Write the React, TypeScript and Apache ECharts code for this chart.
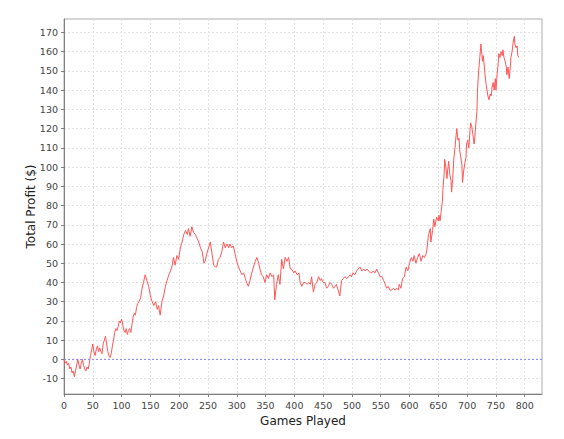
import React, { useEffect, useRef } from "react";
import * as echarts from "echarts";

// [games played, total profit ($)], split by session phase
const phaseOne = [
  [0, 0], [2, -2], [4, -1], [6, -3], [8, -2], [10, -5], [12, -4], [14, -7], [16, -6], [18, -9],
  [20, -6], [22, -3], [24, 0], [26, -3], [28, -5], [30, -2], [32, 0], [34, -3], [36, -5], [38, -6],
  [40, -4], [42, -5], [44, -2], [46, 2], [48, 5], [50, 8], [52, 4], [54, 2], [56, 5], [58, 7],
  [60, 4], [62, 6], [64, 4], [66, 3], [68, 8], [70, 10], [72, 12], [74, 8], [76, 4], [78, 2],
  [80, 1], [82, 3], [84, 7], [86, 10], [88, 14], [90, 16], [92, 15], [94, 17], [96, 20], [98, 19],
  [100, 21], [102, 18], [104, 15], [106, 14], [108, 16], [110, 13], [112, 15], [114, 16], [116, 14],
  [118, 18], [120, 22], [122, 24], [124, 23], [126, 27], [128, 29],
];

const phaseTwo = [
  [130, 30], [133, 32], [135, 36], [138, 40], [141, 44], [144, 41], [147, 38], [150, 33], [153, 30],
  [156, 28], [159, 30], [162, 26], [164, 28], [167, 23], [170, 30], [173, 33], [176, 38], [179, 41],
  [182, 44], [185, 46], [188, 49], [190, 53], [193, 49], [196, 54], [199, 52], [202, 58], [205, 61],
  [208, 65], [211, 67], [214, 65], [216, 68], [219, 64], [222, 69], [225, 66], [228, 65], [231, 63],
  [234, 61], [237, 58], [240, 56], [243, 50], [245, 51], [248, 55], [251, 58], [254, 61], [257, 55],
  [260, 49], [263, 48], [265, 48], [268, 52], [271, 53], [274, 56], [277, 61], [280, 58], [283, 60],
  [286, 58], [288, 60], [291, 58], [294, 59], [297, 55], [300, 51],
];

const phaseThree = [
  [303, 48], [306, 46], [309, 44], [312, 45], [315, 42], [317, 40], [320, 38], [323, 41], [326, 45],
  [329, 48], [332, 51], [335, 53], [338, 50], [341, 46], [343, 44], [346, 43], [349, 40], [352, 44],
  [355, 42], [358, 45], [361, 43], [364, 44], [366, 31], [369, 39], [372, 44], [375, 39], [378, 52],
  [381, 47], [384, 53], [387, 51], [390, 53], [393, 47], [395, 47], [399, 45], [401, 46], [405, 44],
  [408, 45], [410, 40], [413, 38], [416, 40], [419, 40], [422, 39], [425, 40], [428, 39], [430, 43],
  [433, 35], [436, 39], [439, 40], [442, 43], [445, 41], [447, 42], [450, 40], [453, 40], [456, 37],
  [459, 38], [462, 40], [465, 39], [468, 37], [471, 38], [473, 39], [476, 36], [479, 33], [482, 41],
  [485, 42], [488, 43], [491, 42], [494, 43], [497, 44], [499, 43], [502, 45], [505, 44], [508, 46],
  [511, 47], [514, 48], [517, 46], [520, 47], [523, 46], [526, 47], [529, 46], [532, 45], [534, 45],
  [537, 46], [540, 45], [543, 47], [546, 45], [549, 43], [552, 43], [555, 41], [558, 39], [560, 37],
  [563, 38], [566, 36], [569, 36], [572, 37], [575, 36], [578, 37], [581, 36], [582, 39], [585, 37],
  [588, 42], [591, 43], [594, 48], [597, 46], [600, 50],
];

const phaseFour = [
  [603, 53], [606, 51], [608, 54], [611, 50], [614, 53], [617, 55], [620, 51], [623, 54], [626, 53],
  [629, 55], [630, 57], [633, 65], [636, 68], [637, 61], [640, 67], [642, 73], [644, 69], [647, 74],
  [650, 72], [651, 75], [653, 72], [655, 77], [657, 82], [658, 89], [660, 96], [661, 104], [663, 100],
  [665, 94], [666, 98], [668, 103], [670, 96], [672, 93], [673, 87], [675, 94], [677, 105], [679, 110],
  [680, 114], [682, 120], [684, 114], [686, 115], [687, 109], [689, 105], [691, 101], [692, 92],
  [694, 98], [696, 102], [698, 105], [699, 112], [701, 114], [703, 110], [705, 119], [706, 123],
  [708, 121], [710, 117], [712, 112], [713, 114], [715, 122], [717, 129], [718, 140], [720, 150],
  [722, 157], [724, 164], [725, 160], [727, 155], [728, 158], [730, 152], [731, 148], [733, 143],
  [735, 139], [736, 137], [738, 135], [740, 138], [742, 137], [743, 141], [745, 144], [747, 140],
  [749, 146], [750, 140], [752, 148], [754, 154], [755, 159], [757, 157], [759, 160], [761, 158],
  [762, 161], [764, 157], [766, 155], [768, 152], [769, 148], [771, 152], [773, 146], [775, 152],
  [776, 157], [778, 160], [780, 165], [782, 168], [783, 164], [785, 162], [787, 163], [788, 158],
  [790, 157],
];

const xTicks = [0, 50, 100, 150, 200, 250, 300, 350, 400, 450, 500, 550, 600, 650, 700, 750, 800];
const yTicks = [-10, 0, 10, 20, 30, 40, 50, 60, 70, 80, 90, 100, 110, 120, 130, 140, 150, 160, 170];
const xRange = [0, 830];
const yRange = [-18, 177];
const zeroProfit = 0;

const FONT = "DejaVu Sans";

export default function App() {
  const ref = useRef<HTMLDivElement>(null);

  useEffect(() => {
    if (!ref.current) return;
    const chart = echarts.init(ref.current, null, { renderer: "svg" });
    const data = [...phaseOne, ...phaseTwo, ...phaseThree, ...phaseFour];
    const baseline = xRange.map((x) => [x, zeroProfit]);
    const gridLine = { show: true, lineStyle: { color: "#e2e2e2", type: [2, 2] as any, width: 1 } };
    chart.setOption({
      animation: false,
      backgroundColor: "#ffffff",
      grid: {
        left: 64,
        right: 22,
        top: 19,
        bottom: 45,
        show: true,
        borderColor: "#acacac",
        borderWidth: 1,
        backgroundColor: "#ffffff",
      },
      xAxis: {
        type: "value",
        min: xRange[0],
        max: xRange[1],
        name: "Games Played",
        nameLocation: "middle",
        nameGap: 21,
        nameMoveOverlap: false,
        nameTextStyle: { fontFamily: FONT, fontSize: 12, color: "#222" },
        axisLine: { show: true, onZero: false, lineStyle: { color: "#808080", width: 1 } },
        axisTick: { show: true, length: 3, customValues: xTicks, lineStyle: { color: "#808080" } },
        axisLabel: { customValues: xTicks, fontFamily: FONT, fontSize: 9.5, color: "#444", margin: 6 },
        splitLine: gridLine,
      },
      yAxis: {
        type: "value",
        min: yRange[0],
        max: yRange[1],
        name: "Total Profit ($)",
        nameLocation: "middle",
        nameGap: 27,
        nameMoveOverlap: false,
        nameTextStyle: { fontFamily: FONT, fontSize: 12, color: "#222" },
        axisLine: { show: true, onZero: false, lineStyle: { color: "#808080", width: 1 } },
        axisTick: { show: true, length: 3, customValues: yTicks, lineStyle: { color: "#808080" } },
        axisLabel: { customValues: yTicks, fontFamily: FONT, fontSize: 9.5, color: "#444", margin: 6 },
        splitLine: gridLine,
      },
      series: [
        {
          type: "line",
          name: "zero",
          data: baseline,
          symbol: "none",
          silent: true,
          z: 3,
          lineStyle: { color: "#8282f0", type: [2, 2], width: 1 },
          itemStyle: { color: "#8282f0" },
        },
        {
          type: "line",
          name: "profit",
          data,
          symbol: "none",
          showSymbol: false,
          z: 2,
          lineStyle: { color: "#ff5555", width: 1 },
          itemStyle: { color: "#ff5555" },
        },
      ],
    });
    return () => chart.dispose();
  }, []);

  return (
    <div
      ref={ref}
      style={{ position: "absolute", left: 0, top: 0, width: 564, height: 439 }}
    />
  );
}
